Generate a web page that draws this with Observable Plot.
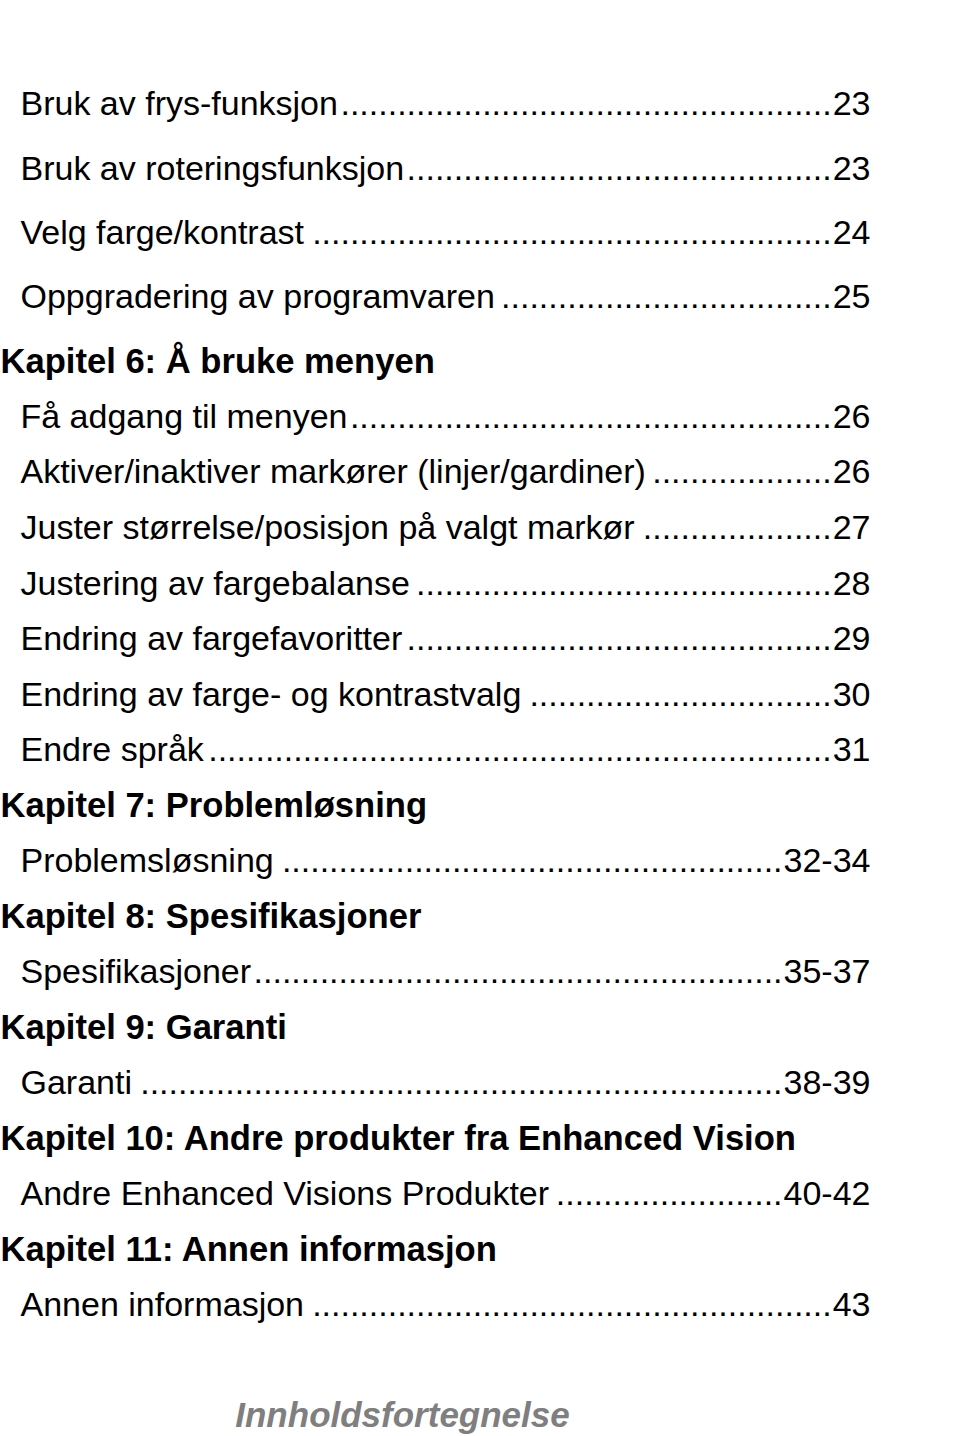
<!DOCTYPE html>
<html>
<head>
<meta charset="utf-8">
<script src="https://cdn.jsdelivr.net/npm/d3@7"></script>
<script src="https://cdn.jsdelivr.net/npm/@observablehq/plot@0.6"></script>
<style>
  html, body { margin: 0; padding: 0; background: #ffffff; }
  #chart svg { display: block; }
</style>
</head>
<body>
<div id="chart"></div>
<script>
// ---- data ----
const titles = [
  "Bruk av frys-funksjon",
  "Bruk av roteringsfunksjon",
  "Velg farge/kontrast",
  "Oppgradering av programvaren",
  "Kapitel 6: Å bruke menyen",
  "Få adgang til menyen",
  "Aktiver/inaktiver markører (linjer/gardiner)",
  "Juster størrelse/posisjon på valgt markør",
  "Justering av fargebalanse",
  "Endring av fargefavoritter",
  "Endring av farge- og kontrastvalg",
  "Endre språk",
  "Kapitel 7: Problemløsning",
  "Problemsløsning",
  "Kapitel 8: Spesifikasjoner",
  "Spesifikasjoner",
  "Kapitel 9: Garanti",
  "Garanti",
  "Kapitel 10: Andre produkter fra Enhanced Vision",
  "Andre Enhanced Visions Produkter",
  "Kapitel 11: Annen informasjon",
  "Annen informasjon"
];
const pages = [
  "23", "23", "24", "25", "", "26", "26", "27", "28", "29", "30", "31",
  "", "32-34", "", "35-37", "", "38-39", "", "40-42", "", "43"
];
const kinds = [
  "entry", "entry", "entry", "entry", "chapter", "entry", "entry", "entry", "entry", "entry", "entry", "entry",
  "chapter", "entry", "chapter", "entry", "chapter", "entry", "chapter", "entry", "chapter", "entry"
];
const footer = ["Innholdsfortegnelse"];

// ---- layout helpers ----
const W = 960, H = 1436;
const FONT = "Liberation Sans, Arial, Helvetica, sans-serif";
const FS = 34;
const FSB = 34.6;
const RIGHT = 870;   // right edge of page numbers
const INDENT = 20;

const canvas = document.createElement("canvas");
const ctx = canvas.getContext("2d");
ctx.font = `${FS}px "Liberation Sans"`;
const mw = s => ctx.measureText(s).width;
const dotW = mw(".");

const rows = titles.map((t, i) => {
  const heading = kinds[i] === "chapter";
  let dots = "", pageW = 0;
  if (!heading) {
    pageW = mw(pages[i]);
    const avail = (RIGHT - pageW - 1) - (INDENT + mw(t));
    const n = Math.max(0, Math.floor(avail / dotW));
    dots = ".".repeat(n);
  }
  return {row: i, title: t, dots, pageOffset: -(pageW + 1), page: pages[i], heading};
});
const entries = rows.filter(d => !d.heading);
const chapters = rows.filter(d => d.heading);

const last = titles.length - 1;

const chart = Plot.plot({
  width: W,
  height: H,
  marginTop: 0,
  marginBottom: 0,
  marginLeft: 0,
  marginRight: W - RIGHT,
  style: {background: "#ffffff", color: "#000000"},
  y: {type: "linear", domain: [0, 4, last], range: [104, 361, 1305], axis: null},
  x: {axis: null},
  marks: [
    Plot.text(entries, {
      y: "row", text: "title", frameAnchor: "left", dx: INDENT, textAnchor: "start",
      fontSize: FS, fontFamily: FONT, fill: "#000000"
    }),
    // dot leaders, right-aligned against each page number
    ...entries.map(d => Plot.text([d], {
      y: "row", text: "dots", frameAnchor: "right", dx: d.pageOffset, textAnchor: "end",
      fontSize: FS, fontFamily: FONT, fill: "#000000"
    })),
    Plot.text(entries, {
      y: "row", text: "page", frameAnchor: "right", textAnchor: "end",
      fontSize: FS, fontFamily: FONT, fill: "#000000"
    }),
    Plot.text(chapters, {
      y: "row", text: "title", frameAnchor: "left", textAnchor: "start",
      fontSize: FSB, fontFamily: FONT, fontWeight: "bold", fill: "#000000"
    }),
    Plot.text(footer, {
      text: d => d, frameAnchor: "bottom", dx: 402 - RIGHT / 2, dy: -10,
      fontSize: 35, fontFamily: FONT, fontWeight: "bold", fontStyle: "italic", fill: "#7f7f7f"
    })
  ]
});

document.getElementById("chart").appendChild(chart);
</script>
</body>
</html>
